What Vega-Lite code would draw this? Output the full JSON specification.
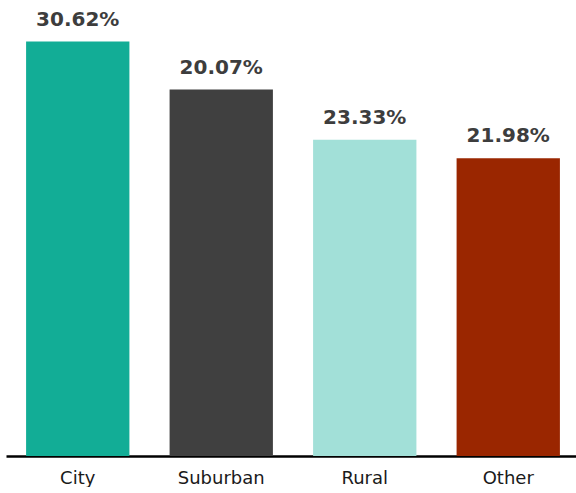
{
  "$schema": "https://vega.github.io/schema/vega-lite/v6.json",
  "width": 574,
  "height": 446,
  "padding": {"left": 6, "top": 9, "right": 0, "bottom": 0},
  "background": "white",
  "config": {"view": {"stroke": null}},
  "data": {
    "values": [
      {"area": "City", "value": 30.62, "label": "30.62%", "color": "#12AD96"},
      {"area": "Suburban", "value": 27.07, "label": "20.07%", "color": "#404040"},
      {"area": "Rural", "value": 23.36, "label": "23.33%", "color": "#A2E0D8"},
      {"area": "Other", "value": 22.0, "label": "21.98%", "color": "#9A2600"}
    ]
  },
  "encoding": {
    "x": {
      "field": "area",
      "type": "nominal",
      "sort": null,
      "scale": {"paddingInner": 0.28, "paddingOuter": 0.14},
      "axis": {
        "title": null,
        "labelAngle": 0,
        "labelFont": "DejaVu Sans",
        "labelFontSize": 18,
        "labelColor": "#1a1a1a",
        "labelPadding": 13,
        "ticks": false,
        "domainColor": "#000000",
        "domainWidth": 2.5
      }
    },
    "y": {
      "field": "value",
      "type": "quantitative",
      "scale": {"domain": [0, 32.95]},
      "axis": null
    }
  },
  "layer": [
    {
      "mark": {"type": "bar"},
      "encoding": {
        "color": {"field": "color", "type": "nominal", "scale": null}
      }
    },
    {
      "mark": {
        "type": "text",
        "dy": -16,
        "baseline": "alphabetic",
        "font": "DejaVu Sans",
        "fontWeight": "bold",
        "fontSize": 20,
        "color": "#3d3d3d"
      },
      "encoding": {"text": {"field": "label", "type": "nominal"}}
    }
  ]
}
